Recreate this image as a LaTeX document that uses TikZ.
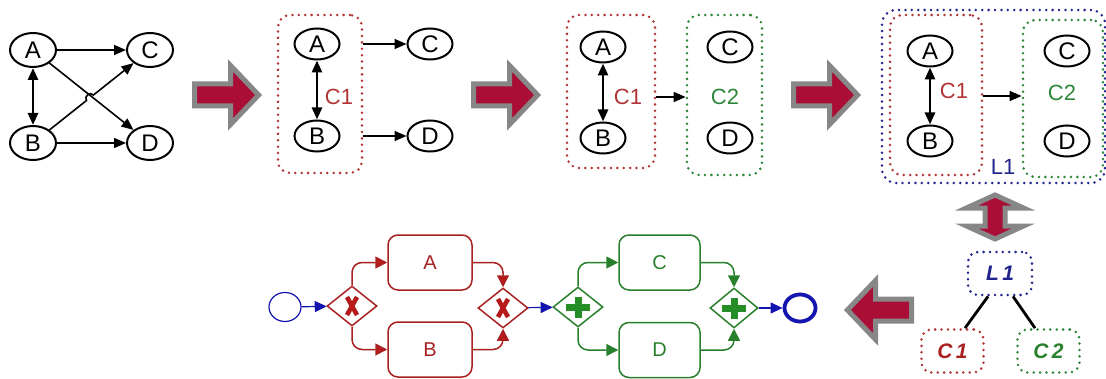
\documentclass[tikz,border=0pt]{standalone}
\usepackage{fontspec}
\setmainfont{Liberation Sans}
\usetikzlibrary{shapes.geometric,arrows.meta,calc}

\definecolor{crim}{RGB}{170,14,54}
\definecolor{arrgray}{RGB}{135,135,135}
\definecolor{cred}{RGB}{176,52,52}
\definecolor{cgreen}{RGB}{46,135,56}
\definecolor{cblue}{RGB}{32,36,140}
\definecolor{fred}{RGB}{168,32,32}
\definecolor{fgreen}{RGB}{40,128,44}
\definecolor{fblue}{RGB}{20,20,175}

\tikzset{
  vtx/.style={draw, ellipse, line width=1pt, inner sep=0pt,
    minimum width=22.5pt, minimum height=15.5pt, font=\fontsize{12}{13}\selectfont},
  vtxbig/.style={vtx, minimum width=23pt, minimum height=17pt},
  edge/.style={-{Triangle[length=6pt,width=5pt]}, line width=0.8pt},
  biedge/.style={{Triangle[length=6pt,width=5pt]}-{Triangle[length=6pt,width=5pt]}, line width=1.3pt},
  dotbox/.style={rounded corners=6pt, line width=1.4pt, dash pattern=on 0pt off 3.2pt,
    line cap=round, inner sep=0pt},
  grp/.style={font=\fontsize{11}{12}\selectfont},
  treebox/.style={dotbox, rounded corners=5pt, minimum width=31pt, minimum height=21.5pt,
    font=\fontsize{10.5}{11}\selectfont\bfseries\itshape},
  task/.style={draw, rounded corners=5pt, line width=0.75pt, inner sep=0pt,
    minimum height=27.5pt, font=\fontsize{10}{11}\selectfont},
  gate/.style={draw, diamond, line width=0.75pt, inner sep=0pt,
    minimum width=25pt, minimum height=20pt},
  rflow/.style={draw=fred, line width=0.75pt, rounded corners=5pt,
    -{Triangle[length=6pt,width=6pt,fill=fred!80!red]}},
  gflow/.style={draw=fgreen, line width=0.75pt, rounded corners=5pt,
    -{Triangle[length=6pt,width=6pt,fill=fgreen]}},
  bflow/.style={draw=fblue, line width=0.6pt, -{Triangle[length=6pt,width=5.5pt,fill=fblue]}},
  blockarrow/.pic={
    \draw[line width=2.5pt, draw=arrgray, fill=crim, line join=miter]
      (-32.5,-11) -- (3.5,-11) -- (3.5,-29.5) -- (31.6,0) -- (3.5,29.5) -- (3.5,11)
      -- (-32.5,11) -- cycle;},
  updownarrow/.pic={
    \draw[line width=2.5pt, draw=arrgray, fill=crim, line join=miter]
      (-10,-9) -- (-28.5,-9) -- (0,-22) -- (28.5,-9) -- (10,-9) -- (10,9)
      -- (28.5,9) -- (0,22) -- (-28.5,9) -- (-10,9) -- cycle;},
  xormark/.pic={
    \draw[fred!85!red, line width=2.3pt] (-5,-9) -- (5,9) (5,-9) -- (-5,9);},
  andmark/.pic={
    \draw[fgreen!90!green, line width=3.5pt] (-12,0) -- (12,0) (0,-10.5) -- (0,10.5);}
}

\begin{document}
\begin{tikzpicture}[x=0.5pt, y=-0.5pt]
\useasboundingbox (0,0) rectangle (1106,379);

% ---------- stage 1: original graph ----------
\node[vtxbig] (a1) at (33,50) {A};
\node[vtxbig] (c1) at (150,50) {C};
\node[vtxbig] (b1) at (33,143) {B};
\node[vtxbig] (d1) at (150,143) {D};
\draw[edge] (a1) -- (c1);
\draw[edge] (b1) -- (d1);
\draw[biedge] (a1) -- (b1);
\draw[edge] (a1) -- (d1);
\coordinate (h1) at (86.5,100.5);
\coordinate (h2) at (93.5,95);
\draw[edge] (b1) -- (h1) .. controls (83.4,96.6) and (90.4,91.1) .. (h2) -- (c1);

\pic at (227,95) {blockarrow};

% ---------- stage 2: first cluster ----------
\node[dotbox, draw=cred, minimum width=42pt, minimum height=79pt] (g2r) at (320,94) {};
\node[vtx] (a2) at (317,44) {A};
\node[vtx] (b2) at (317,136) {B};
\node[vtx] (c2) at (430,44) {C};
\node[vtx] (d2) at (430,136) {D};
\draw[biedge] (a2) -- (b2);
\draw[edge] (g2r.east |- a2) -- (c2);
\draw[edge] (g2r.east |- b2) -- (d2);
\node[grp, text=cred] (l2r) at (339,97) {C1};

\pic at (506,95) {blockarrow};

% ---------- stage 3: two clusters ----------
\node[dotbox, draw=cred, minimum width=44pt, minimum height=76.5pt] (g3r) at (611,91.5) {};
\node[dotbox, draw=cgreen, minimum width=37.5pt, minimum height=80pt] (g3g) at (724.5,95) {};
\node[vtx] (a3) at (603,47) {A};
\node[vtx] (b3) at (603,138) {B};
\node[vtx] (c3) at (730,47) {C};
\node[vtx] (d3) at (730,138) {D};
\draw[biedge] (a3) -- (b3);
\node[grp, text=cred] (l3r) at (628,97) {C1};
\node[grp, text=cgreen] (l3g) at (725,97) {C2};
\draw[edge] (g3r.east |- l3r) -- (g3g.west |- l3r);

\pic at (826,95) {blockarrow};

% ---------- stage 4: layer around clusters ----------
\node[dotbox, draw=cblue, rounded corners=7pt, minimum width=111.5pt, minimum height=86.5pt] (g4b) at (993.5,96.5) {};
\node[dotbox, draw=cred, minimum width=46pt, minimum height=80pt] (g4r) at (936,95) {};
\node[dotbox, draw=cgreen, minimum width=40pt, minimum height=78.5pt] (g4g) at (1063,98.5) {};
\node[vtx] (a4) at (930,51) {A};
\node[vtx] (b4) at (930,141) {B};
\node[vtx] (c4) at (1067,51) {C};
\node[vtx] (d4) at (1067,141) {D};
\draw[biedge] (a4) -- (b4);
\node[grp, text=cred] (l4r) at (954,91) {C1};
\node[grp, text=cgreen] (l4g) at (1062,93) {C2};
\node[grp, text=cblue] (l4b) at (1003,167) {L1};
\coordinate (m4) at (0,96);
\draw[edge] (g4r.east |- m4) -- (g4g.west |- m4);

\pic at (995,217) {updownarrow};

% ---------- hierarchy tree ----------
\node[treebox, draw=cblue, text=cblue, minimum width=32pt] (tl1) at (1000,273.5) {L\,1};
\node[treebox, draw=cred, text=fred] (tc1) at (952.5,351) {C\,1};
\node[treebox, draw=cgreen, text=fgreen] (tc2) at (1048.5,351) {C\,2};
\draw[line width=1.4pt] ($(tl1.south)+(-12,0)$) -- ($(tc1.north)+(12.5,0)$);
\draw[line width=1.4pt] ($(tl1.south)+(13,0)$) -- ($(tc2.north)+(-13.5,0)$);

\pic[rotate=180] at (879,310) {blockarrow};

% ---------- process model ----------
\node[draw=fblue, ellipse, line width=0.6pt, minimum width=16pt, minimum height=14.5pt, inner sep=0pt] (st) at (285,307) {};
\node[gate, draw=fred] (x1) at (352,306) {};
\node[task, draw=fred, text=fred, minimum width=42pt] (ta) at (430,262.5) {A};
\node[task, draw=fred, text=fred, minimum width=42pt] (tb) at (430,349.5) {B};
\node[gate, draw=fred] (x2) at (503,308) {};
\node[gate, draw=fgreen] (p1) at (578,307) {};
\node[task, draw=fgreen, text=fgreen, minimum width=40.5pt] (tcc) at (659.5,262.5) {C};
\node[task, draw=fgreen, text=fgreen, minimum width=40.5pt] (tdd) at (659.5,350) {D};
\node[gate, draw=fgreen, minimum width=24pt] (p2) at (734,308) {};
\node[draw=fblue, ellipse, line width=1.9pt, minimum width=15.5pt, minimum height=13.5pt, inner sep=0pt] (en) at (800,308) {};

\pic at (x1) {xormark};
\pic at (x2) {xormark};
\pic at (p1) {andmark};
\pic at (p2) {andmark};

\draw[bflow] (st) -- (x1);
\draw[rflow] (x1.north) |- (ta.west);
\draw[rflow] (x1.south) |- (tb.west);
\draw[rflow] (ta.east) -| (x2.north);
\draw[rflow] (tb.east) -| (x2.south);
\draw[bflow] (x2) -- (p1);
\draw[gflow] (p1.north) |- (tcc.west);
\draw[gflow] (p1.south) |- (tdd.west);
\draw[gflow] (tcc.east) -| (p2.north);
\draw[gflow] (tdd.east) -| (p2.south);
\draw[bflow] (p2) -- (en);
\end{tikzpicture}
\end{document}
